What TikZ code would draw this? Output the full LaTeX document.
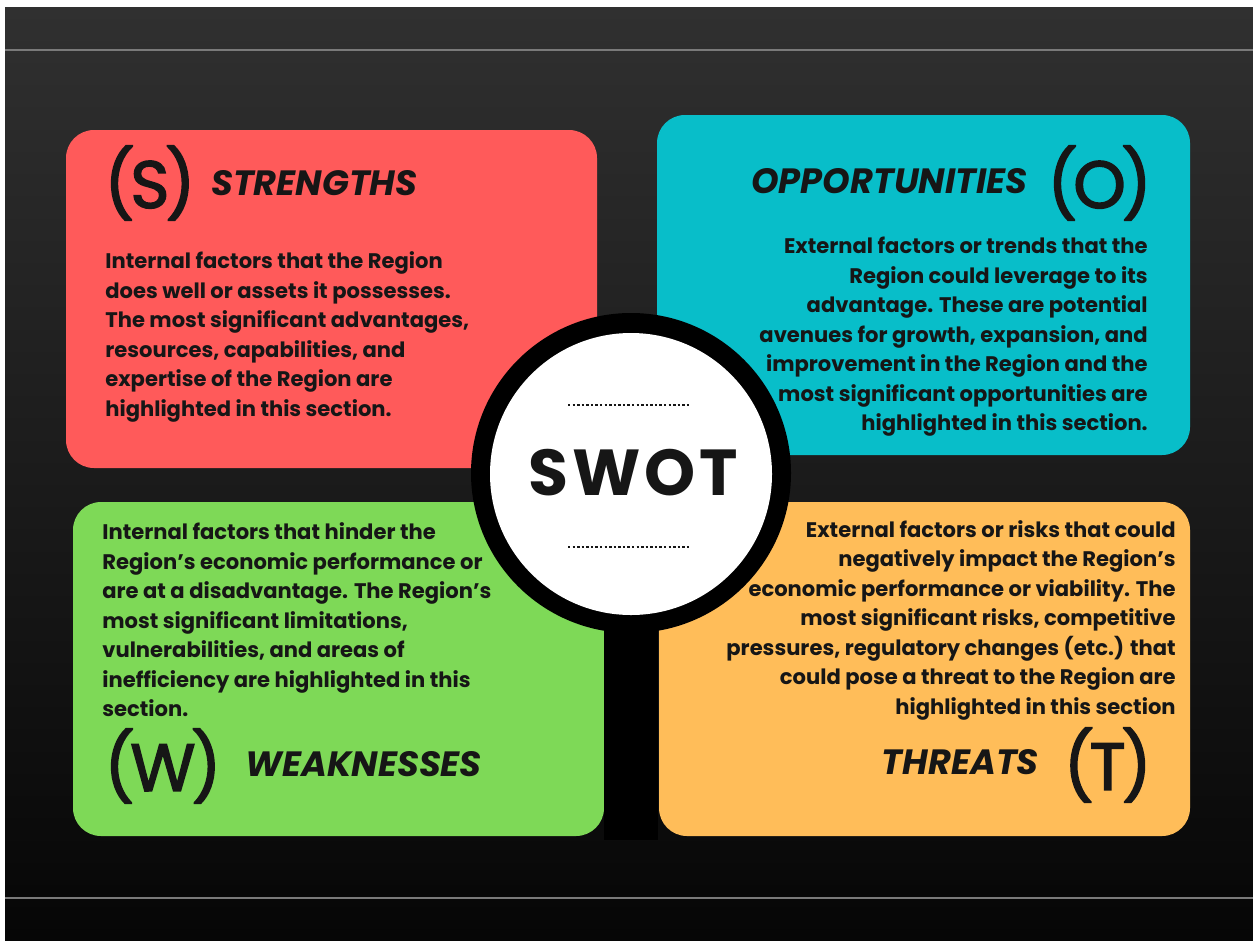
\documentclass[tikz,border=0pt]{standalone}
\usepackage{fontspec}
\setmainfont{Poppins}
\newfontfamily\letterfont[FakeBold=2.2]{Poppins}
\definecolor{swRed}{HTML}{FF5A5A}
\definecolor{swCyan}{HTML}{08BEC9}
\definecolor{swGreen}{HTML}{7ED957}
\definecolor{swOrange}{HTML}{FFBD59}
\definecolor{bgTop}{HTML}{303030}
\definecolor{bgMid}{HTML}{1B1B1B}
\definecolor{bgBot}{HTML}{060606}
\definecolor{lineGray}{HTML}{7A7A7A}
\definecolor{ink}{HTML}{161616}
\newcommand{\parlet}[1]{(\kern-2.5pt#1\kern-2.5pt)}
\begin{document}
\begin{tikzpicture}[x=0.02cm,y=-0.02cm,
  card/.style={rounded corners=0.56cm},
  bodytext/.style={inner sep=0pt, text=ink, font=\fontsize{12}{16.8}\selectfont\bfseries},
  letter/.style={inner sep=0pt, text=ink, font=\letterfont\fontsize{38}{38}\selectfont},
  title/.style={inner sep=0pt, text=ink, font=\fontsize{20}{20}\selectfont\bfseries\itshape},
  dotline/.style={ink, line width=1.5pt, dash pattern=on 1.4pt off 1.2pt}]
\useasboundingbox (0,0) rectangle (1253,940);
\fill[white] (0,0) rectangle (1253,940);
\shade[top color=bgTop, middle color=bgMid, bottom color=bgBot] (5,7) rectangle (1253,940);
\draw[lineGray, line width=1.1pt] (5,50) -- (1253,50);
\draw[lineGray, line width=1.1pt] (5,898) -- (1253,898);
% cards
\fill[swRed, card] (66,130) rectangle (597,468);
\fill[swCyan, card] (657,115) rectangle (1190,455);
\fill[swGreen, card] (73,502) rectangle (604,836);
\fill[swOrange, card] (659,502) rectangle (1190,836);
% magnifier
\fill[black] (604,470) rectangle (658,840);
\fill[black] (631,473) circle[radius=160];
\fill[white] (631,474) circle[radius=141];
\coordinate (d1a) at (568,405); \coordinate (d1b) at (690,405);
\coordinate (d2a) at (568,547); \coordinate (d2b) at (690,547);
\draw[dotline] (d1a) -- (d1b);
\draw[dotline] (d2a) -- (d2b);
\node[inner sep=0pt, text=ink, anchor=base, font=\fontsize{37}{37}\selectfont\bfseries\addfontfeature{LetterSpace=6}] (swot) at (633,495) {SWOT};
% strengths
\node[letter, anchor=west] (sL) at (104,183) {\parlet{S}};
\node[title, anchor=base west] (sT) at (211,195) {STRENGTHS};
\node[bodytext, anchor=west, align=left] (sB) at (105,337) {Internal factors that the Region\\does well or assets it possesses.\\The most significant advantages,\\resources, capabilities, and\\expertise of the Region are\\highlighted in this section.};
% opportunities
\node[letter, anchor=east] (oL) at (1152,183) {\parlet{O}};
\node[title, anchor=base east] (oT) at (1028,193) {OPPORTUNITIES};
\node[bodytext, anchor=east, align=right] (oB) at (1148,337) {External factors or trends that the\\Region could leverage to its\\advantage. These are potential\\avenues for growth, expansion, and\\improvement in the Region and the\\most significant opportunities are\\highlighted in this section.};
% weaknesses
\node[bodytext, anchor=west, align=left] (wB) at (102,620) {Internal factors that hinder the\\Region’s economic performance or\\are at a disadvantage. The Region’s\\most significant limitations,\\vulnerabilities, and areas of\\inefficiency are highlighted in this\\section.};
\node[letter, anchor=west] (wL) at (104,766) {\parlet{W}};
\node[title, anchor=base west] (wT) at (245,776) {WEAKNESSES};
% threats
\node[bodytext, anchor=east, align=right] (tB) at (1176,620) {External factors or risks that could\\negatively impact the Region’s\\economic performance or viability. The\\most significant risks, competitive\\pressures, regulatory changes (etc.) that\\could pose a threat to the Region are\\highlighted in this section};
\node[title, anchor=base east] (tT) at (1039,774) {THREATS};
\node[letter, anchor=east] (tL) at (1152,765) {\parlet{T}};
\end{tikzpicture}
\end{document}
